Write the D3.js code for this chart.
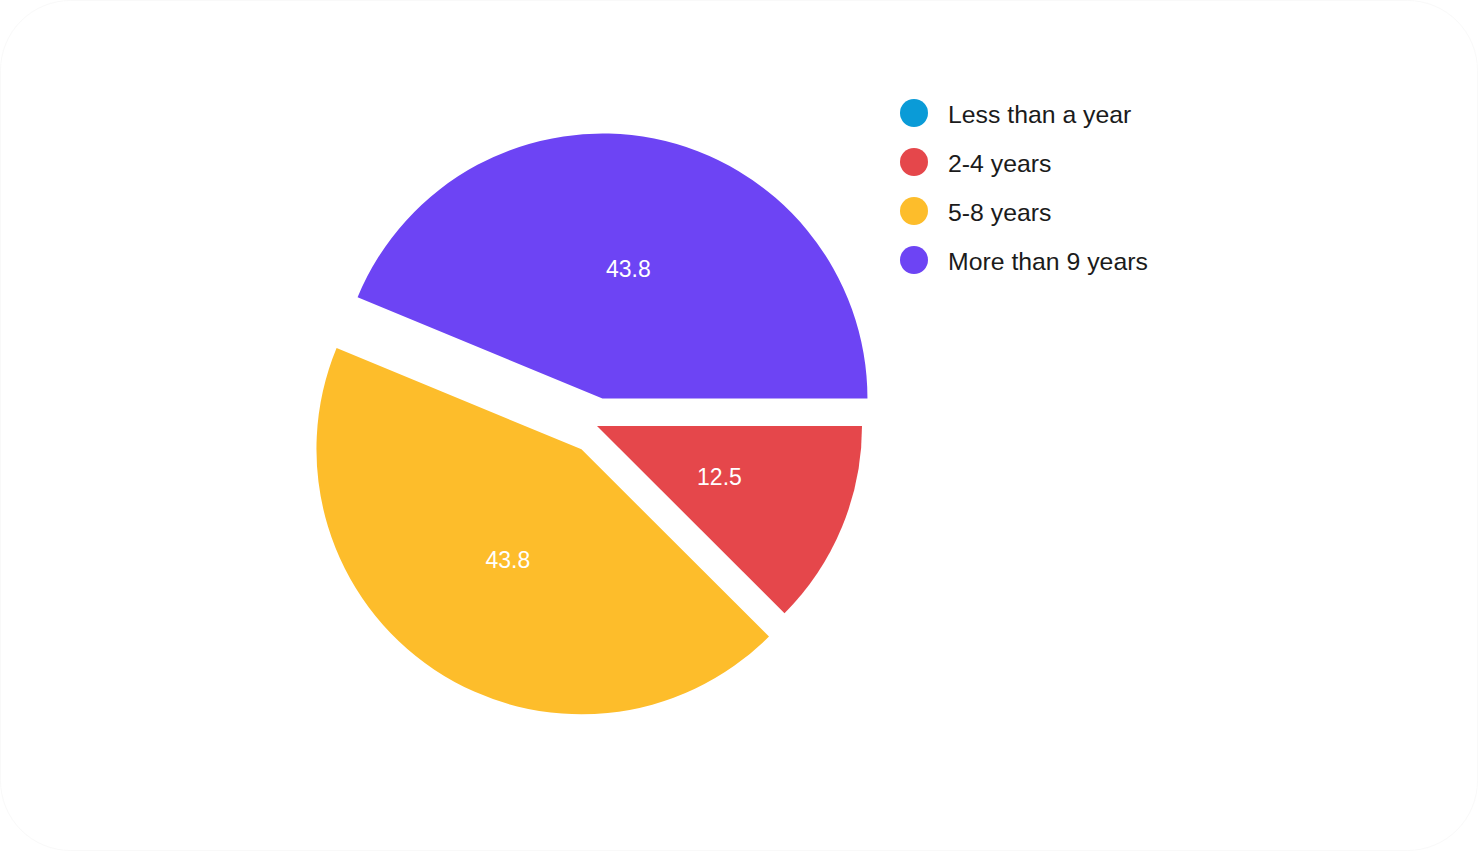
<!DOCTYPE html>
<html>
<head>
<meta charset="utf-8">
<script src="https://cdn.jsdelivr.net/npm/d3@7"></script>
<style>
  html, body { margin: 0; padding: 0; background: #ffffff; }
  svg { display: block; }
</style>
</head>
<body>
<svg id="chart" width="1478" height="851"></svg>
<script>
// ---- data ----
const categories = ["Less than a year", "2-4 years", "5-8 years", "More than 9 years"];
const values = [0, 12.5, 43.8, 43.8];
const labels = ["0", "12.5", "43.8", "43.8"];
const colors = ["#0a9bd7", "#e5474b", "#fdbd2b", "#6d44f4"];
const explode = [0, 0, 28, 28];

// ---- layout ----
const W = 1478, H = 851;
const cx = 597, cy = 426, R = 265;
const svg = d3.select("#chart");

svg.append("rect")
  .attr("x", 0.5).attr("y", 0.5)
  .attr("width", W - 1).attr("height", H - 1)
  .attr("rx", 70).attr("ry", 70)
  .attr("fill", "#ffffff")
  .attr("stroke", "#f9f9f9")
  .attr("stroke-width", 1);

const pie = d3.pie()
  .sort(null)
  .value(d => d)
  .startAngle(Math.PI / 2)
  .endAngle(Math.PI / 2 + 2 * Math.PI);

const arcs = pie(values);
const arc = d3.arc().innerRadius(0).outerRadius(R);

const g = svg.append("g").attr("transform", `translate(${cx},${cy})`);

const slice = g.selectAll("g.slice")
  .data(arcs)
  .join("g")
  .attr("class", "slice")
  .attr("transform", (d, i) => {
    const mid = (d.startAngle + d.endAngle) / 2;
    const off = explode[i];
    return `translate(${off * Math.sin(mid)},${-off * Math.cos(mid)})`;
  });

slice.filter(d => d.value > 0)
  .append("path")
  .attr("d", arc)
  .attr("fill", d => colors[arcs.indexOf(d)]);

slice.filter(d => d.value > 0)
  .append("text")
  .attr("transform", d => `translate(${arc.centroid(d)})`)
  .attr("text-anchor", "middle")
  .attr("dy", "0.38em")
  .attr("font-family", "'Liberation Sans', Arial, sans-serif")
  .attr("font-size", 23)
  .attr("fill", "#ffffff")
  .text(d => labels[arcs.indexOf(d)]);

// ---- legend ----
const legend = svg.append("g");
const lx = 914, ly0 = 113, lstep = 49;
const items = legend.selectAll("g.item")
  .data(categories)
  .join("g")
  .attr("class", "item")
  .attr("transform", (d, i) => `translate(${lx},${ly0 + i * lstep})`);

items.append("circle")
  .attr("r", 14)
  .attr("fill", (d, i) => colors[i]);

items.append("text")
  .attr("x", 34)
  .attr("y", 9.5)
  .attr("font-family", "'Liberation Sans', Arial, sans-serif")
  .attr("font-size", 24.8)
  .attr("fill", "#1b1b1b")
  .text(d => d);
</script>
</body>
</html>
